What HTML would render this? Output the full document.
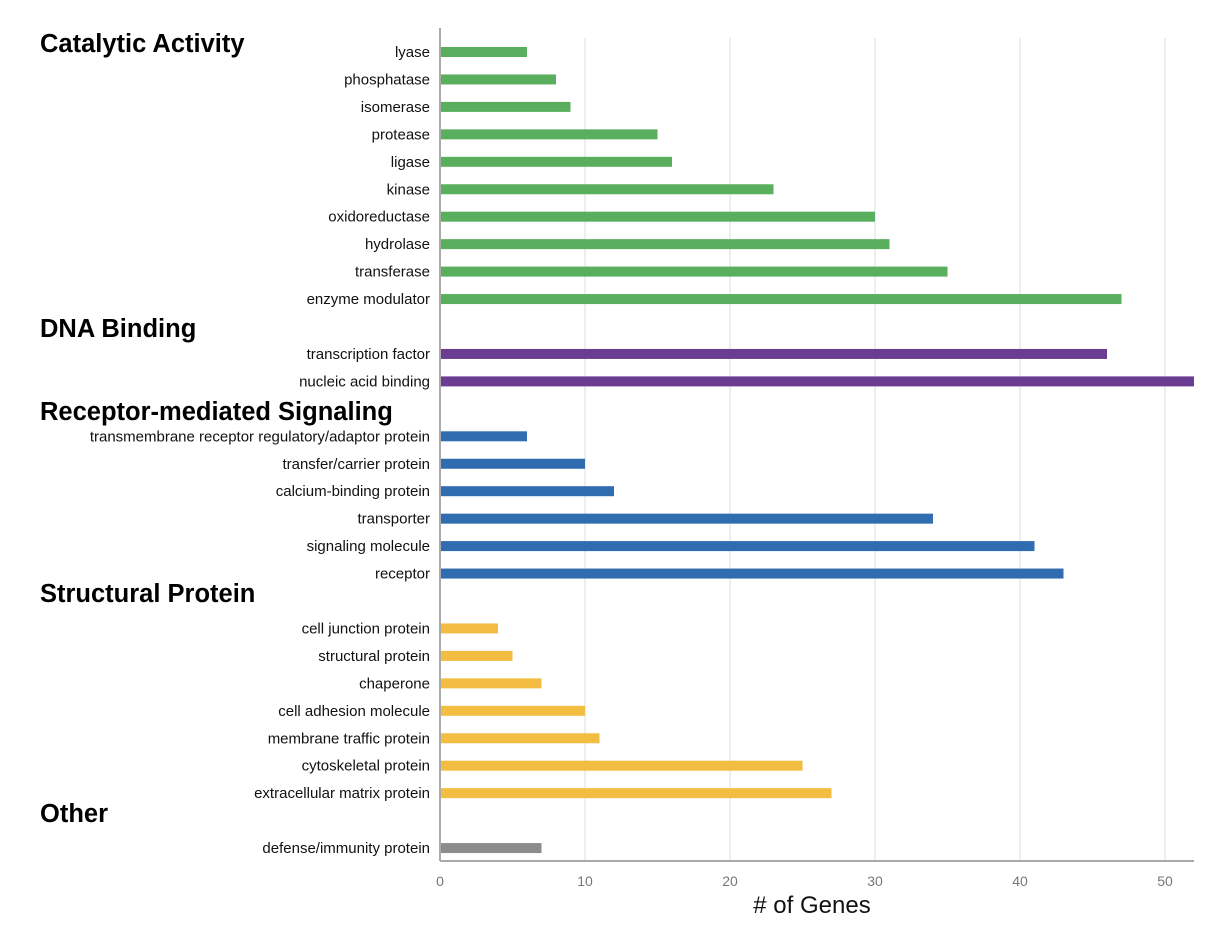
<!DOCTYPE html>
<html><head><meta charset="utf-8"><style>
body{margin:0;background:#fff;}
svg{display:block;font-family:"Liberation Sans",Arial,sans-serif;}
</style></head><body>
<svg id="chart" width="1230" height="930"></svg>
<script>
const categories=["lyase","phosphatase","isomerase","protease","ligase","kinase","oxidoreductase","hydrolase","transferase","enzyme modulator","transcription factor","nucleic acid binding","transmembrane receptor regulatory/adaptor protein","transfer/carrier protein","calcium-binding protein","transporter","signaling molecule","receptor","cell junction protein","structural protein","chaperone","cell adhesion molecule","membrane traffic protein","cytoskeletal protein","extracellular matrix protein","defense/immunity protein"];
const values=[6,8,9,15,16,23,30,31,35,47,46,52,6,10,12,34,41,43,4,5,7,10,11,25,27,7];
const groupOf=[0,0,0,0,0,0,0,0,0,0,1,1,2,2,2,2,2,2,3,3,3,3,3,3,3,4];
const groupNames=["Catalytic Activity","DNA Binding","Receptor-mediated Signaling","Structural Protein","Other"];
const groupColors=["#5aaf5e","#6a3d92","#2f6cb0","#f2bd41","#8c8c8c"];
const xTicks=[0,10,20,30,40,50];

const NS="http://www.w3.org/2000/svg";
const svg=document.getElementById('chart');
const x0=440,pxPer=14.5,xMax=52;
const X=v=>x0+v*pxPer;
const slotY=s=>52+s*27.45;
const headerBase=[52,337,420,602,822];
function el(t,a,p){const e=document.createElementNS(NS,t);for(const k in a)e.setAttribute(k,a[k]);(p||svg).appendChild(e);return e;}

xTicks.forEach(t=>{
  if(t>0){const g=el('line',{x1:X(t),x2:X(t),y1:38,y2:861,stroke:'#dcdcdc','stroke-width':1});
  
  }
  const tl=el('text',{x:X(t),y:886,'text-anchor':'middle','font-size':14,fill:'#777'});tl.textContent=t;
  
  
});
const ax=el('line',{x1:440,x2:440,y1:28,y2:861,stroke:'#aaa','stroke-width':2});


const bx=el('line',{x1:440,x2:X(xMax),y1:861,y2:861,stroke:'#aaa','stroke-width':2});



let slot=0,prevG=-1;
categories.forEach((c,i)=>{
  const g=groupOf[i];
  if(g!==prevG){
    if(prevG!==-1)slot++;
    const h=el('text',{x:40,y:headerBase[g],'font-size':25.5,'font-weight':'bold',fill:'#000'});
    h.textContent=groupNames[g];
    
    
    prevG=g;
  }
  const y=slotY(slot);
  const lb=el('text',{x:430,y:y+5,'text-anchor':'end','font-size':15,fill:'#111'});lb.textContent=c;
  
  
  const b=el('rect',{x:X(0)+1,y:y-5,width:X(values[i])-X(0)-1,height:10,fill:groupColors[g]});
  
  
  slot++;
});
const xt=el('text',{x:812,y:913,'text-anchor':'middle','font-size':24,fill:'#111'});xt.textContent='# of Genes';


</script>
</body></html>
